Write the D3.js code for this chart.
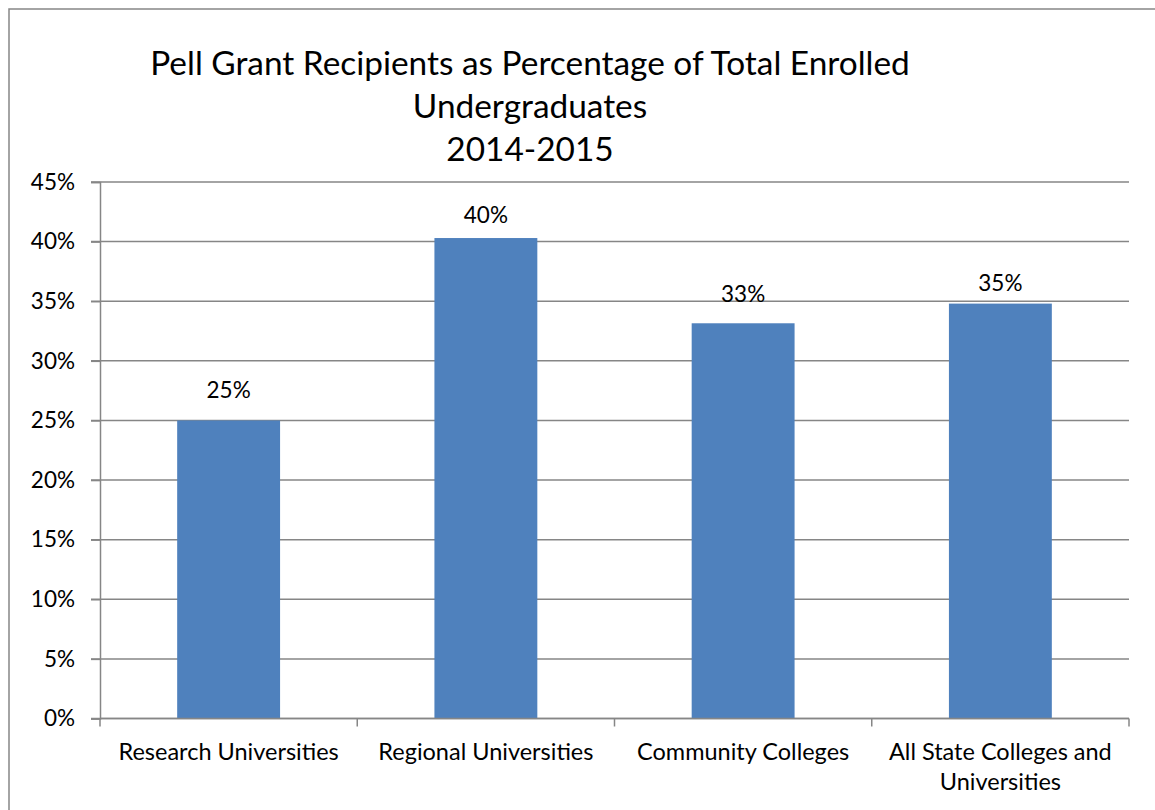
<!DOCTYPE html>
<html><head><meta charset="utf-8">
<script src="https://d3js.org/d3.v7.min.js"></script>
<style>body{margin:0;background:#fff}svg{display:block}text{font-family:Lato,"Open Sans",sans-serif;fill:#000}</style>
</head><body><svg id="c" width="1155" height="810"></svg>
<script>
const titleLines = ["Pell Grant Recipients as Percentage of Total Enrolled","Undergraduates","2014-2015"];
const categories = ["Research Universities","Regional Universities","Community Colleges","All State Colleges and Universities"];
const values = [25.0, 40.3, 33.15, 34.8];
const labels = ["25%","40%","33%","35%"];
const yTicks = [0,5,10,15,20,25,30,35,40,45];

// label gap above each bar (style, px) as placed in the original
const labelGap = [22, 15, 21.5, 12.5];

const svg = d3.select("#c");
svg.append("rect").attr("x",9).attr("y",9).attr("width",1160).attr("height",820)
  .attr("fill","#fff").attr("stroke","#868686").attr("stroke-width",1.5);

const L=100,R=1129,T=182,B=718.5;
const x = d3.scaleBand().domain(categories).range([L,R]).paddingInner(0.6).paddingOuter(0.3);
const y = d3.scaleLinear().domain([0,45]).range([B,T]);

svg.append("g").selectAll("line").data(yTicks).join("line")
  .attr("x1",L-9).attr("x2",R).attr("y1",d=>y(d)).attr("y2",d=>y(d))
  .attr("stroke","#868686").attr("stroke-width",1.5);

const ya = svg.append("g").attr("transform",`translate(${L},0)`)
  .call(d3.axisLeft(y).tickValues(yTicks).tickFormat(d=>d+"%").tickSize(9).tickPadding(16));
ya.select(".domain").attr("stroke","#868686").attr("stroke-width",1.5);
ya.selectAll(".tick line").attr("stroke","#868686").attr("stroke-width",1.5);
ya.selectAll("text").attr("font-size",22.5).attr("font-family","Lato");

svg.append("g").selectAll("rect").data(values).join("rect")
  .attr("x",(d,i)=>x(categories[i])).attr("width",x.bandwidth())
  .attr("y",d=>y(d)).attr("height",d=>B-y(d)).attr("fill","#4F81BD");

const step = (R-L)/categories.length;
svg.append("line").attr("x1",L).attr("x2",R).attr("y1",B).attr("y2",B).attr("stroke","#868686").attr("stroke-width",1.5);
svg.append("g").selectAll("line").data(d3.range(categories.length+1)).join("line")
  .attr("x1",i=>L+i*step).attr("x2",i=>L+i*step).attr("y1",B).attr("y2",B+8)
  .attr("stroke","#868686").attr("stroke-width",1.5);

const maxW = 240;
categories.forEach((c,i)=>{
  const cx = x(c)+x.bandwidth()/2;
  const t = svg.append("text").attr("x",cx).attr("y",759.5).attr("text-anchor","middle").attr("font-size",23.5);
  const words = c.split(" ");
  let line=[], lines=[];
  const tmp = t.append("tspan");
  words.forEach(w=>{
    line.push(w); tmp.text(line.join(" "));
    if (tmp.node().getComputedTextLength()>maxW && line.length>1){ line.pop(); lines.push(line.join(" ")); line=[w]; }
  });
  lines.push(line.join(" "));
  tmp.remove();
  lines.forEach((ln,k)=>t.append("tspan").attr("x",cx).attr("dy",k?30:0).text(ln));
});

svg.append("g").selectAll("text").data(values).join("text")
  .attr("x",(d,i)=>x(categories[i])+x.bandwidth()/2).attr("y",(d,i)=>y(d)-labelGap[i])
  .attr("text-anchor","middle").attr("font-size",22.5).text((d,i)=>labels[i]);

svg.append("text").attr("x",530).attr("y",75).attr("text-anchor","middle").attr("font-size",33.4)
  .selectAll("tspan").data(titleLines).join("tspan").attr("x",530).attr("dy",(d,i)=>i?43:0).text(d=>d);
</script></body></html>
